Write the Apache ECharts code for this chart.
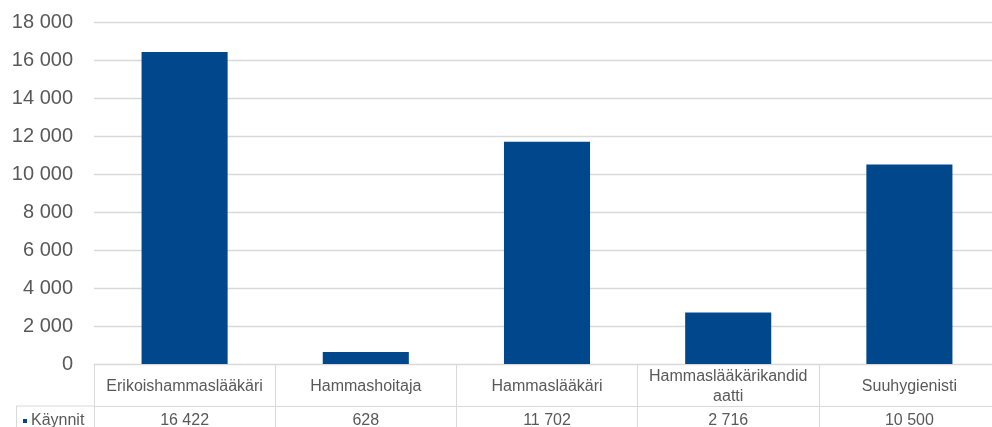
<!DOCTYPE html>
<html>
<head>
<meta charset="utf-8">
<script src="https://cdn.jsdelivr.net/npm/echarts@6/dist/echarts.min.js"></script>
<style>
  html, body { margin: 0; padding: 0; background: #fff; }
  #chart { width: 992px; height: 427px; }
</style>
</head>
<body>
<div id="chart"></div>
<script>
// Visits by professional group
const categories = ['Erikoishammaslääkäri', 'Hammashoitaja', 'Hammaslääkäri', 'Hammaslääkärikandidaatti', 'Suuhygienisti'];
const visits = [16422, 628, 11702, 2716, 10500];
const seriesName = 'Käynnit';
const yTicks = { min: 0, max: 18000, interval: 2000 };

const TEXT = '#595959';
const LINE = '#d9d9d9';
const BAR = '#00478B';
const FONT = '"Liberation Sans", Arial, sans-serif';

// layout of the plot and of the data table under it
const gridLeft = 94, gridTop = 22, gridBottom = 63, gridWidth = 906;
const headerRow = 42, valueRow = 21, tableLeft = 16;
const H = 427;

const fmt = v => String(v).replace(/\B(?=(\d{3})+(?!\d))/g, ' ');

const chart = echarts.init(document.getElementById('chart'));
const zeroY = H - gridBottom;
const rowY = zeroY + headerRow;

chart.setOption({
  animation: false,
  textStyle: { fontFamily: FONT },
  grid: {
    left: gridLeft, width: gridWidth, top: gridTop, bottom: gridBottom,
    containLabel: false, outerBoundsMode: 'none'
  },
  legend: {
    data: [seriesName],
    left: tableLeft + 7,
    top: rowY + 7,
    icon: 'rect',
    itemWidth: 4,
    itemHeight: 4,
    itemGap: 4,
    padding: 0,
    textStyle: { color: TEXT, fontSize: 16, fontFamily: FONT, padding: [0, 0, 0, -1] }
  },
  xAxis: [
    {
      type: 'category',
      data: categories,
      position: 'bottom',
      axisLine: { show: true, lineStyle: { color: LINE, width: 1 } },
      axisTick: { show: true, length: headerRow + valueRow, lineStyle: { color: LINE, width: 1 } },
      axisLabel: {
        color: TEXT, fontSize: 16, fontFamily: FONT,
        interval: 0, margin: headerRow / 2 + 2, verticalAlign: 'middle',
        width: 180, overflow: 'breakAll', lineHeight: 20
      }
    },
    {
      type: 'category',
      data: visits.map(fmt),
      position: 'bottom',
      offset: headerRow,
      axisLine: { show: true, lineStyle: { color: LINE, width: 1 } },
      axisTick: { show: false },
      axisLabel: {
        color: TEXT, fontSize: 16, fontFamily: FONT,
        interval: 0, margin: valueRow / 2 + 4, verticalAlign: 'middle'
      }
    }
  ],
  yAxis: {
    type: 'value',
    min: yTicks.min, max: yTicks.max, interval: yTicks.interval,
    axisLine: { show: false },
    axisTick: { show: false },
    axisLabel: { color: TEXT, fontSize: 20, fontFamily: FONT, margin: 21, formatter: fmt },
    splitLine: { lineStyle: { color: LINE, width: 1.3 } }
  },
  series: [{
    name: seriesName,
    type: 'bar',
    data: visits,
    barWidth: '47.5%',
    itemStyle: { color: BAR },
    xAxisIndex: 0
  }],
  graphic: [
    // series-name cell of the table
    { type: 'line', shape: { x1: tableLeft, y1: rowY, x2: gridLeft, y2: rowY }, style: { stroke: LINE, lineWidth: 1 } },
    { type: 'line', shape: { x1: tableLeft + 0.5, y1: rowY, x2: tableLeft + 0.5, y2: H }, style: { stroke: LINE, lineWidth: 1 } }
  ]
});
</script>
</body>
</html>
